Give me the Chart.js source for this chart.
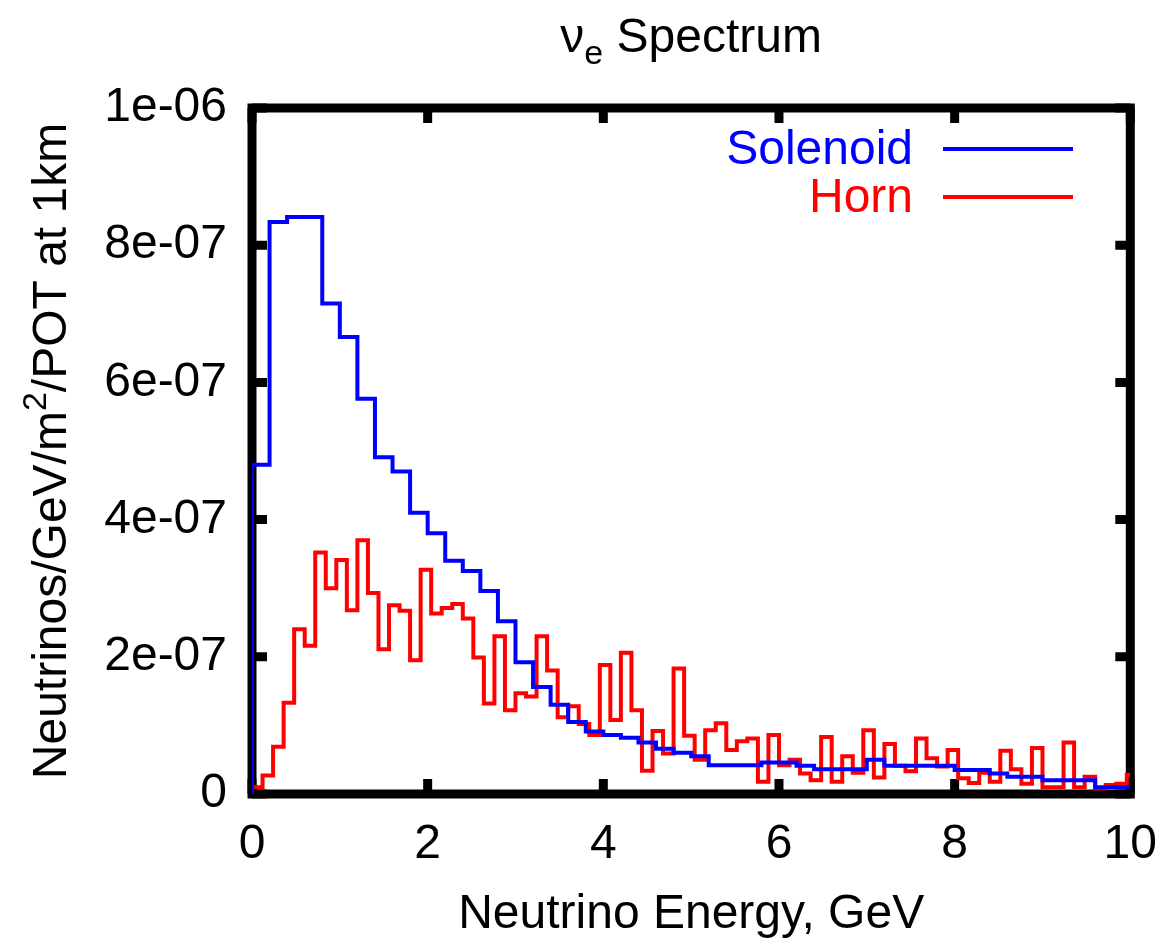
<!DOCTYPE html>
<html>
<head>
<meta charset="utf-8">
<title>nu_e Spectrum</title>
<script src="https://cdn.jsdelivr.net/npm/chart.js@4.4.1/dist/chart.umd.min.js"></script>
<style>
  html, body { margin: 0; padding: 0; background: #fff; }
  #wrap { width: 1171px; height: 942px; }
</style>
</head>
<body>
<div id="wrap"><canvas id="spectrum" width="1171" height="942"></canvas></div>
<script>
// values in units of 1e-7 neutrinos/GeV/m^2/POT at 1km
const solenoidBinWidth = 0.2;
const solenoid = [
  4.80, 8.34, 8.41, 8.41, 7.15, 6.66, 5.76, 4.91, 4.70, 4.10,
  3.80, 3.40, 3.25, 2.96, 2.52, 1.92, 1.56, 1.30, 1.05, 0.91,
  0.86, 0.82, 0.75, 0.66, 0.60, 0.55, 0.42, 0.42, 0.42, 0.46,
  0.46, 0.41, 0.36, 0.36, 0.36, 0.50, 0.41, 0.41, 0.41, 0.41,
  0.35, 0.35, 0.30, 0.25, 0.25, 0.20, 0.20, 0.20, 0.10, 0.10
];

const hornBinWidth = 0.12;
const horn = [
  0.10, 0.27, 0.69, 1.33, 2.40, 2.16, 3.52, 3.00, 3.41, 2.68,
  3.70, 2.93, 2.11, 2.75, 2.67, 1.95, 3.27, 2.63, 2.71, 2.77,
  2.56, 1.99, 1.32, 2.30, 1.22, 1.47, 1.42, 2.30, 1.80, 1.12,
  1.28, 1.02, 0.86, 1.88, 1.08, 2.06, 1.22, 0.34, 0.92, 0.59,
  1.83, 0.85, 0.50, 0.93, 1.03, 0.64, 0.77, 0.81, 0.18, 0.86,
  0.42, 0.50, 0.30, 0.20, 0.83, 0.18, 0.55, 0.31, 0.93, 0.24,
  0.73, 0.41, 0.33, 0.81, 0.52, 0.40, 0.64, 0.23, 0.16, 0.31,
  0.18, 0.63, 0.36, 0.15, 0.67, 0.10, 0.10, 0.75, 0.10, 0.25,
  0.08, 0.13, 0.15, 0.28
];

const xTickValues = [0, 2, 4, 6, 8, 10];
const yTickValues = [0, 2, 4, 6, 8, 10];
const yTickLabels = ["0", "2e-07", "4e-07", "6e-07", "8e-07", "1e-06"];

const X_MAX = 10;
const FONT = "'Liberation Sans', Arial, Helvetica, sans-serif";
const FONT_SIZE = 48;

// turn bin contents into step points: left edge of each bin, then closing edge
function histPoints(values, width) {
  const pts = [{ x: 0, y: 0 }];
  values.forEach((v, i) => pts.push({ x: i * width, y: v }));
  pts.push({ x: Math.min(values.length * width, X_MAX), y: values[values.length - 1] });
  return pts;
}

const framePlugin = {
  id: "frame",
  beforeDatasetsDraw(chart) {
    const { ctx, chartArea: a, scales } = chart;
    ctx.save();
    ctx.strokeStyle = "#000";
    ctx.lineWidth = 9;
    ctx.strokeRect(a.left, a.top, a.right - a.left, a.bottom - a.top);
    ctx.beginPath();
    yTickValues.forEach((v) => {
      const py = scales.y.getPixelForValue(v);
      ctx.moveTo(a.left, py);
      ctx.lineTo(a.left + 15, py);
      ctx.moveTo(a.right, py);
      ctx.lineTo(a.right - 15, py);
    });
    xTickValues.forEach((v) => {
      const px = scales.x.getPixelForValue(v);
      ctx.moveTo(px, a.bottom);
      ctx.lineTo(px, a.bottom - 15);
      ctx.moveTo(px, a.top);
      ctx.lineTo(px, a.top + 15);
    });
    ctx.stroke();
    ctx.restore();
  },
};

const textPlugin = {
  id: "texts",
  afterDraw(chart) {
    const { ctx, chartArea: a } = chart;
    const cx = (a.left + a.right) / 2;
    const cy = (a.top + a.bottom) / 2;
    ctx.save();
    ctx.fillStyle = "#000";
    ctx.textBaseline = "alphabetic";

    // title: nu with subscript e
    const big = FONT_SIZE + "px " + FONT;
    const small = Math.round(FONT_SIZE * 0.7) + "px " + FONT;
    ctx.font = big;
    const wNu = ctx.measureText("\u03bd").width;
    const wRest = ctx.measureText(" Spectrum").width;
    ctx.font = small;
    const wE = ctx.measureText("e").width;
    let tx = cx - (wNu + wE + wRest) / 2;
    const tBase = 52;
    ctx.textAlign = "left";
    ctx.font = big;
    ctx.fillText("\u03bd", tx, tBase);
    tx += wNu;
    ctx.font = small;
    ctx.fillText("e", tx, tBase + 12);
    tx += wE;
    ctx.font = big;
    ctx.fillText(" Spectrum", tx, tBase);

    // x axis title
    ctx.textAlign = "center";
    ctx.fillText("Neutrino Energy, GeV", cx, 928);

    // y axis title with superscript 2
    ctx.translate(66, cy);
    ctx.rotate(-Math.PI / 2);
    const p1 = "Neutrinos/GeV/m";
    const p2 = "2";
    const p3 = "/POT at 1km";
    ctx.font = big;
    const w1 = ctx.measureText(p1).width;
    const w3 = ctx.measureText(p3).width;
    ctx.font = small;
    const w2 = ctx.measureText(p2).width;
    let yx = -(w1 + w2 + w3) / 2;
    ctx.textAlign = "left";
    ctx.font = big;
    ctx.fillText(p1, yx, 0);
    yx += w1;
    ctx.font = small;
    ctx.fillText(p2, yx, -20);
    yx += w2;
    ctx.font = big;
    ctx.fillText(p3, yx, 0);
    ctx.restore();

    // legend: label then line sample
    ctx.save();
    ctx.font = big;
    ctx.textAlign = "right";
    ctx.textBaseline = "middle";
    chart.data.datasets.forEach((ds, i) => {
      const ly = 149 + i * 48;
      ctx.fillStyle = ds.borderColor;
      ctx.fillText(ds.label, 913, ly + 2);
      ctx.strokeStyle = ds.borderColor;
      ctx.lineWidth = 4;
      ctx.beginPath();
      ctx.moveTo(943, ly);
      ctx.lineTo(1073, ly);
      ctx.stroke();
    });
    ctx.restore();
  },
};

const ctx = document.getElementById("spectrum");
new Chart(ctx, {
  type: "line",
  data: {
    datasets: [
      {
        label: "Solenoid",
        data: histPoints(solenoid, solenoidBinWidth),
        borderColor: "#0000ff",
        borderWidth: 4,
        stepped: "before",
        pointRadius: 0,
        fill: false,
      },
      {
        label: "Horn",
        data: histPoints(horn, hornBinWidth),
        borderColor: "#ff0000",
        borderWidth: 4,
        stepped: "before",
        pointRadius: 0,
        fill: false,
      },
    ],
  },
  options: {
    responsive: false,
    animation: false,
    layout: { padding: { left: 0, right: 38, top: 108, bottom: 0 } },
    plugins: {
      legend: { display: false },
      title: { display: false },
      tooltip: { enabled: false },
    },
    scales: {
      x: {
        type: "linear",
        min: 0,
        max: X_MAX,
        grid: { display: false },
        border: { display: false },
        ticks: {
          stepSize: 2,
          padding: 14,
          color: "#000",
          font: { family: FONT, size: FONT_SIZE },
          maxRotation: 0,
        },
        afterFit(scale) {
          scale.height = 148;
        },
      },
      y: {
        min: 0,
        max: 10,
        grid: { display: false },
        border: { display: false },
        ticks: {
          stepSize: 2,
          padding: 17,
          color: "#000",
          font: { family: FONT, size: FONT_SIZE },
          callback: function (value) {
            const i = yTickValues.indexOf(value);
            return i >= 0 ? yTickLabels[i] : "";
          },
        },
        afterFit(scale) {
          scale.width = 252;
        },
      },
    },
  },
  plugins: [framePlugin, textPlugin],
});
</script>
</body>
</html>
